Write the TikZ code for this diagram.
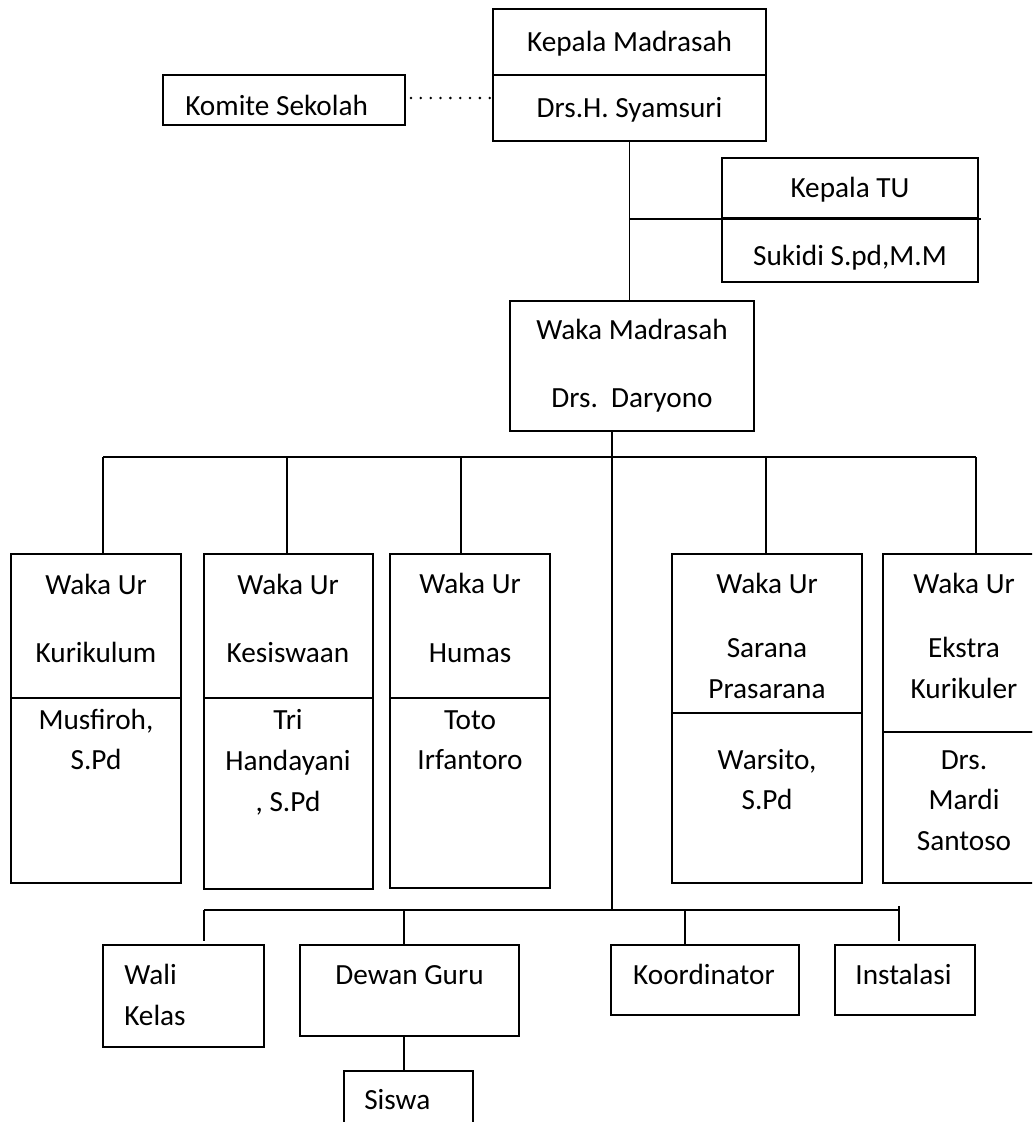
\documentclass[tikz,border=0pt]{standalone}
\usepackage{fontspec}
\setmainfont{Carlito}
\newcommand{\orgfont}{\fontsize{20.8}{28}\selectfont}
\tikzset{
  box/.style 2 args={draw, line width=1.4pt, inner sep=0pt,
    minimum width=#1*0.025cm, minimum height=#2*0.025cm},
  txt/.style={inner sep=0pt, font=\orgfont, text height=13.4pt, text depth=0pt},
  link/.style={line width=1.4pt},
  dotline/.style={line width=2pt, line cap=round, dash pattern=on 0pt off 7pt},
}
\begin{document}
\begin{tikzpicture}[x=0.025cm, y=-0.025cm]
    \useasboundingbox (0,0) rectangle (1032,1122);
    \clip (0,0) rectangle (1032,1122);

    % kepala madrasah and komite
    \node[box={273}{66}, txt] (kepala) at (629.5,42) {Kepala Madrasah};
    \node[box={273}{66}, txt] (syam) at (629.5,108) {Drs.H. Syamsuri};
    \node[box={242}{50}] (komite) at (284,100) {};
    \node[txt, anchor=west] (tkomite) at (185,106) {Komite Sekolah};
    \draw[dotline] (komite.east) ++(5,-2) -- ++(80,0);

    % kepala TU
    \node[box={256}{60}, txt] (katu) at (850,188) {Kepala TU};
    \node[box={256}{64}] (sukidi) at (850,250) {};
    \node[txt] (tsukidi) at (850,256) {Sukidi S.pd,M.M};

    % waka madrasah
    \node[box={244}{130}] (waka) at (632,366) {};
    \node[txt] (twaka1) at (632,330) {Waka Madrasah};
    \node[txt] (twaka2) at (632,398) {Drs.\ \ Daryono};

    \draw[link] (syam.south) -- (syam.south |- waka.north);
    \draw[link] (syam.south |- katu.south) -- (katu.south east) -- ++(2,0);

    % waka ur boxes
    \node[box={170}{144}] (kurA) at (96,626) {};
    \node[box={170}{185}] (kurB) at (96,790.5) {};
    \node[box={169}{144}] (kesA) at (288.5,626) {};
    \node[box={169}{191}] (kesB) at (288.5,793.5) {};
    \node[box={160}{144}] (humA) at (470,626) {};
    \node[box={160}{190}] (humB) at (470,793) {};
    \node[box={190}{159}] (sarA) at (767,633.5) {};
    \node[box={190}{170}] (sarB) at (767,798) {};
    \node[box={162}{178}] (eksA) at (964,643) {};
    \node[box={162}{151}] (eksB) at (964,807.5) {};

    \node[txt] (tkur1) at (96,585) {Waka Ur};
    \node[txt] (tkur2) at (96,653) {Kurikulum};
    \node[txt] (tkur3) at (96,720) {Musfiroh,};
    \node[txt] (tkur4) at (96,760) {S.Pd};

    \node[txt] (tkes1) at (288,585) {Waka Ur};
    \node[txt] (tkes2) at (288,653) {Kesiswaan};
    \node[txt] (tkes3) at (288,720) {Tri};
    \node[txt] (tkes4) at (288,761) {Handayani};
    \node[txt] (tkes5) at (288,802) {, S.Pd};

    \node[txt] (thum1) at (470,584) {Waka Ur};
    \node[txt] (thum2) at (470,653) {Humas};
    \node[txt] (thum3) at (470,720) {Toto};
    \node[txt] (thum4) at (470,760) {Irfantoro};

    \node[txt] (tsar1) at (767,584) {Waka Ur};
    \node[txt] (tsar2) at (767,648) {Sarana};
    \node[txt] (tsar3) at (767,689) {Prasarana};
    \node[txt] (tsar4) at (767,760) {Warsito,};
    \node[txt] (tsar5) at (767,800) {S.Pd};

    \node[txt] (teks1) at (964,584) {Waka Ur};
    \node[txt] (teks2) at (964,648) {Ekstra};
    \node[txt] (teks3) at (964,689) {Kurikuler};
    \node[txt] (teks4) at (964,760) {Drs.};
    \node[txt] (teks5) at (964,800) {Mardi};
    \node[txt] (teks6) at (964,841) {Santoso};

    % upper bus
    \coordinate (hub) at (612,910);
    \coordinate (d1) at (103,457);
    \coordinate (d2) at (287,457);
    \coordinate (d3) at (461,457);
    \coordinate (d4) at (766,457);
    \coordinate (d5) at (975.5,457);
    \draw[link] (waka.south -| hub) -- (hub);
    \draw[link] (d1) -- (d5);
    \foreach \drop/\kid in {d1/kurA, d2/kesA, d3/humA, d4/sarA, d5/eksA}
      \draw[link] (\drop) -- (\drop |- \kid.north);

    % lower boxes
    \node[box={161}{102}] (wali) at (183.5,996) {};
    \node[txt, anchor=west] (twali1) at (124,975) {Wali};
    \node[txt, anchor=west] (twali2) at (124,1016) {Kelas};
    \node[box={219}{91}] (dewan) at (409.5,990.5) {};
    \node[txt] (tdewan) at (409.5,975) {Dewan Guru};
    \node[box={188}{70}] (koord) at (705,980) {};
    \node[txt] (tkoord) at (704,975) {Koordinator};
    \node[box={140}{70}] (inst) at (905,980) {};
    \node[txt] (tinst) at (903.5,975) {Instalasi};
    \node[box={129}{70}] (siswa) at (408.5,1106) {};
    \node[txt, anchor=west] (tsiswa) at (364,1100) {Siswa};

    % lower bus
    \coordinate (e1) at (204,910);
    \coordinate (e2) at (404,910);
    \coordinate (e3) at (685,910);
    \coordinate (e4) at (899,910);
    \draw[link] (e1) -- (e4);
    \draw[link] (e1) -- ([yshift=2pt]e1 |- wali.north);
    \draw[link] (e2) -- (e2 |- dewan.north);
    \draw[link] (e3) -- (e3 |- koord.north);
    \draw[link] ([yshift=3pt]e4) -- ([yshift=2pt]e4 |- inst.north);
    \draw[link] (e2 |- dewan.south) -- (e2 |- siswa.north);
\end{tikzpicture}
\end{document}
